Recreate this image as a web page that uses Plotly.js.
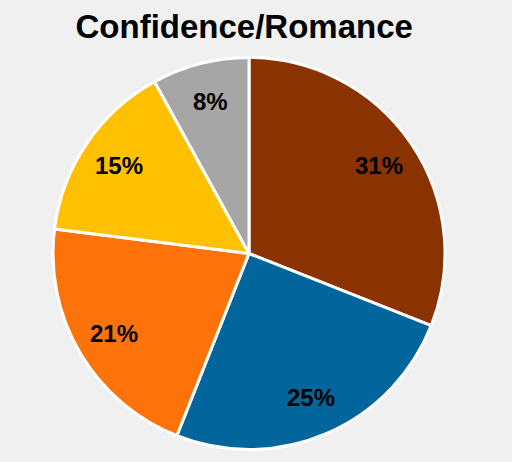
<!DOCTYPE html>
<html>
<head>
<meta charset="utf-8">
<script src="https://cdn.plot.ly/plotly-3.0.1.min.js"></script>
<style>
  html, body { margin: 0; padding: 0; background: #f0f0f0; }
  #chart { width: 512px; height: 462px; }
</style>
</head>
<body>
<div id="chart"></div>
<script>
// slices, clockwise from 12 o'clock
const categories = ['A', 'B', 'C', 'D', 'E'];
const shares = [31, 25, 21, 15, 8];
const sliceColors = ['#8a3300', '#02659b', '#fd730a', '#fec000', '#a6a6a6'];

const trace = {
    type: 'pie',
    labels: categories,
    values: shares,
    sort: false,
    direction: 'clockwise',
    rotation: 0,
    textinfo: 'none',
    marker: {colors: sliceColors, line: {color: '#ffffff', width: 3}},
    hoverinfo: 'none'
};

// percent labels sit further out than plotly's own inside text,
// so put them at ~0.8 of the radius along each slice's middle angle
const total = shares.reduce((a, b) => a + b, 0);
const labelAnns = [];
let cum = 0;
shares.forEach(v => {
    const mid = (cum + v / 2) / total * 2 * Math.PI;
    cum += v;
    labelAnns.push({
        xref: 'paper', yref: 'paper',
        x: 0.5 + 0.5 * 0.8 * Math.sin(mid),
        y: 0.5 + 0.5 * 0.8 * Math.cos(mid),
        xanchor: 'center', yanchor: 'middle',
        text: '<b>' + v + '%</b>',
        showarrow: false,
        font: {family: 'Liberation Sans', size: 24, color: '#000'}
    });
});

const layout = {
    title: {
        text: '<b>Confidence/Romance</b>',
        font: {family: 'Liberation Sans', size: 33, color: '#000'},
        x: 0.477, xanchor: 'center',
        y: 0.943, yanchor: 'middle'
    },
    showlegend: false,
    paper_bgcolor: '#f0f0f0',
    plot_bgcolor: '#f0f0f0',
    margin: {t: 57, b: 12, l: 53, r: 67},
    annotations: labelAnns
};

Plotly.newPlot('chart', [trace], layout, {displayModeBar: false});
</script>
</body>
</html>
